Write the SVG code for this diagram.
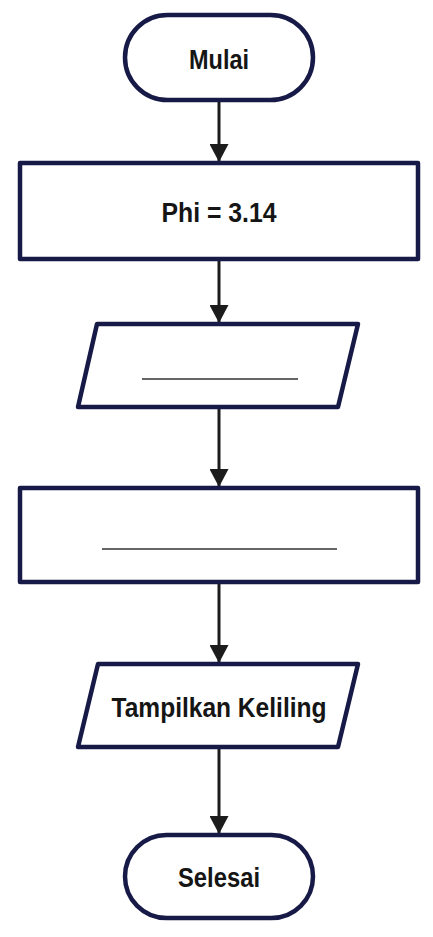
<svg xmlns="http://www.w3.org/2000/svg" width="433" height="937" viewBox="0 0 433 937">
<style>
.shape{fill:#fff;stroke:#171a47;stroke-width:4.5;stroke-linejoin:round}
.lbl{font-family:"Liberation Sans",Arial,sans-serif;font-weight:bold;font-size:27px;fill:#151515;text-anchor:middle}
.conn{stroke:#1c1c1c;stroke-width:3;fill:none}
.blank{stroke:#333;stroke-width:1.6}
</style>
<defs>
<marker id="arr" markerWidth="18" markerHeight="19" refX="18" refY="9.5" orient="auto" markerUnits="userSpaceOnUse" viewBox="0 0 18 19">
<path d="M0,0 L18,9.5 L0,19 Z" fill="#1c1c1c"/>
</marker>
</defs>
<rect width="433" height="937" fill="#fff"/>
<g id="connectors">
<line class="conn" x1="219" y1="100" x2="219" y2="162" marker-end="url(#arr)"/>
<line class="conn" x1="219" y1="259" x2="219" y2="323" marker-end="url(#arr)"/>
<line class="conn" x1="219" y1="407" x2="219" y2="487" marker-end="url(#arr)"/>
<line class="conn" x1="219" y1="582" x2="219" y2="663" marker-end="url(#arr)"/>
<line class="conn" x1="219" y1="747" x2="219" y2="834" marker-end="url(#arr)"/>
</g>
<g id="mulai">
<rect class="shape" x="125" y="15" width="188" height="85" rx="42.5"/>
<text class="lbl" x="219" y="69" textLength="60" lengthAdjust="spacingAndGlyphs">Mulai</text>
</g>
<g id="phi">
<rect class="shape" x="20" y="163" width="398" height="96"/>
<text class="lbl" x="219" y="222" textLength="115" lengthAdjust="spacingAndGlyphs">Phi = 3.14</text>
</g>
<g id="input">
<polygon class="shape" points="97,324 358,324 338,407 78,407"/>
<line class="blank" x1="142" y1="379" x2="298" y2="379" stroke="#555"/>
</g>
<g id="proses">
<rect class="shape" x="20" y="488" width="398" height="94"/>
<line class="blank" x1="102" y1="549" x2="337" y2="549" stroke-width="2"/>
</g>
<g id="output">
<polygon class="shape" points="98,664 358,664 338,747 78,747"/>
<text class="lbl" x="219" y="717" textLength="215" lengthAdjust="spacingAndGlyphs">Tampilkan Keliling</text>
</g>
<g id="selesai">
<rect class="shape" x="125" y="835" width="188" height="83" rx="41.5"/>
<text class="lbl" x="219" y="887" textLength="82" lengthAdjust="spacingAndGlyphs">Selesai</text>
</g>
</svg>
